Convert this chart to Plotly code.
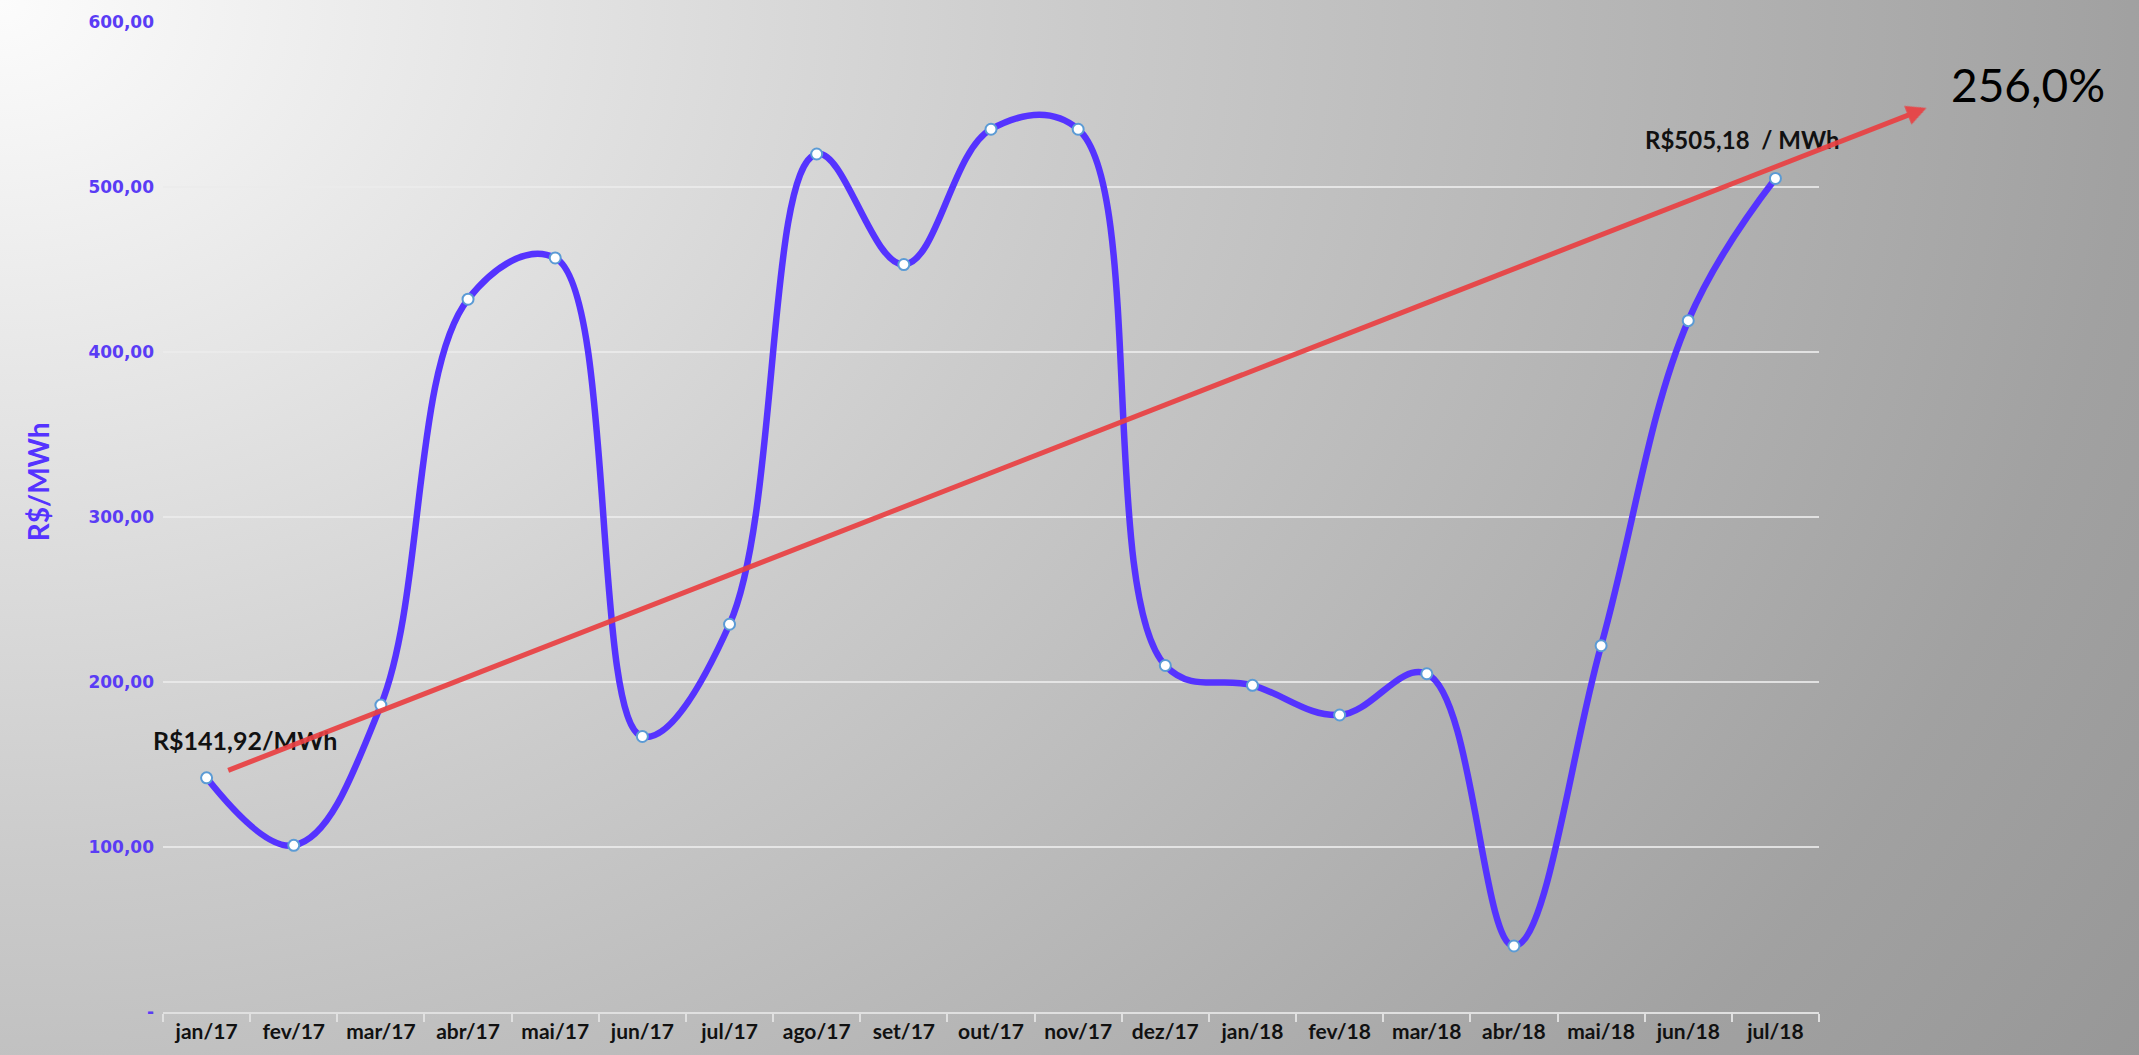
import base64
import plotly.graph_objects as go

categories = ["jan/17", "fev/17", "mar/17", "abr/17", "mai/17", "jun/17", "jul/17",
              "ago/17", "set/17", "out/17", "nov/17", "dez/17", "jan/18", "fev/18",
              "mar/18", "abr/18", "mai/18", "jun/18", "jul/18"]
prices = [141.92, 101, 186, 432, 457, 167, 235, 520, 453, 535, 535, 210, 198, 180,
          205, 40, 222, 419, 505.18]
y_tickvals = [0, 100, 200, 300, 400, 500, 600]
y_ticktext = ["-", "100,00", "200,00", "300,00", "400,00", "500,00", "600,00"]
start_label = "R$141,92/MWh"
end_label = "R$505,18  / MWh"
growth_label = "256,0%"
y_title = "R$/MWh"

W, H = 2139, 1055
L, R, T, B = 163, 320, 19, 42
pw, ph = W - L - R, H - T - B

BLUE = "#5533FF"
FONT = "Lato, Noto Sans, sans-serif"

# background gradient (svg image), slightly oversized to cover the page edges
PAD = 6
GW, GH = W + 2 * PAD, H + 2 * PAD
svg = f'''<svg xmlns="http://www.w3.org/2000/svg" width="{GW}" height="{GH}" viewBox="0 0 {GW} {GH}" preserveAspectRatio="none">
<defs><radialGradient id="g" gradientUnits="userSpaceOnUse" cx="{PAD}" cy="{PAD}" r="{W*1.2:.0f}" gradientTransform="scale(1,0.8)">
<stop offset="0" stop-color="#fcfcfc"/><stop offset="0.42" stop-color="#cbcbcb"/>
<stop offset="0.83" stop-color="#a1a1a1"/><stop offset="1" stop-color="#969696"/></radialGradient></defs>
<rect x="0" y="0" width="{GW}" height="{GH}" fill="url(#g)"/></svg>'''
src = "data:image/svg+xml;base64," + base64.b64encode(svg.encode()).decode()

fig = go.Figure()
fig.add_trace(go.Scatter(
    x=categories, y=prices, mode="lines+markers",
    line=dict(color=BLUE, width=6.5, shape="spline", smoothing=1.1),
    marker=dict(size=11, color="white", line=dict(color="#5B9BD5", width=2)),
    cliponaxis=False, hoverinfo="x+y",
))


def px_x(px):
    return (px - L) / pw


def px_y(py):
    return (T + ph - py) / ph


annos = [
    dict(xref="x", yref="y", x=categories[0], y=prices[0], text="<b>" + start_label + "</b>",
         showarrow=False, xshift=38, yshift=38, xanchor="center", yanchor="middle",
         font=dict(family=FONT, size=25, color="#111111")),
    dict(xref="x", yref="y", x=categories[-1], y=prices[-1], text="<b>" + end_label + "</b>",
         showarrow=False, xshift=-33, yshift=39, xanchor="center", yanchor="middle",
         font=dict(family=FONT, size=24, color="#111111")),
    dict(xref="paper", yref="paper", x=px_x(2028), y=px_y(82),
         text=growth_label, showarrow=False, xanchor="center", yanchor="middle",
         font=dict(family=FONT, size=46, color="#000000")),
    dict(xref="paper", yref="paper", x=px_x(38), y=px_y(481),
         text="<b>" + y_title + "</b>", showarrow=False, textangle=-90,
         xanchor="center", yanchor="middle",
         font=dict(family=FONT, size=28, color=BLUE)),
    dict(xref="paper", yref="paper", x=px_x(1926.5), y=px_y(105.3),
         axref="pixel", ayref="pixel", ax=226.7 - 1926.5, ay=768.3 - 105.3,
         text="", showarrow=True, arrowhead=2, arrowsize=0.8, arrowwidth=5,
         arrowcolor="rgba(234,64,66,0.92)", standoff=0, startstandoff=0),
]

fig.update_layout(
    width=W, height=H,
    margin=dict(l=L, r=R, t=T, b=B, pad=0),
    paper_bgcolor="#f0f0f0", plot_bgcolor="rgba(0,0,0,0)",
    showlegend=False,
    annotations=annos,
    images=[dict(source=src, xref="paper", yref="paper",
                 x=-(L + PAD) / pw, y=(T + ph + PAD) / ph,
                 sizex=GW / pw, sizey=GH / ph, xanchor="left", yanchor="top",
                 sizing="stretch", layer="below")],
    xaxis=dict(
        type="category", range=[-0.5, len(categories) - 0.5],
        showgrid=False, showline=True, linecolor="#e0e0e0", linewidth=2,
        ticks="outside", tickson="boundaries", ticklen=8, tickwidth=1.5,
        tickcolor="#e0e0e0",
        tickfont=dict(family=FONT, size=21, color="#111111", weight="bold"),
        zeroline=False,
    ),
    yaxis=dict(
        range=[0, 600], tickvals=y_tickvals, ticktext=y_ticktext,
        showgrid=True, gridcolor="rgba(235,235,235,0.85)", gridwidth=1.6,
        showline=False, zeroline=False, ticks="", ticklabelstandoff=8,
        tickfont=dict(family="DejaVu Sans, Verdana, sans-serif", size=17, color="#5A3CF5",
                      weight="bold"),
    ),
)

fig.write_html("out.html", config={"displayModeBar": False},
               post_script="document.body.style.margin='0';document.body.style.overflow='hidden';")
